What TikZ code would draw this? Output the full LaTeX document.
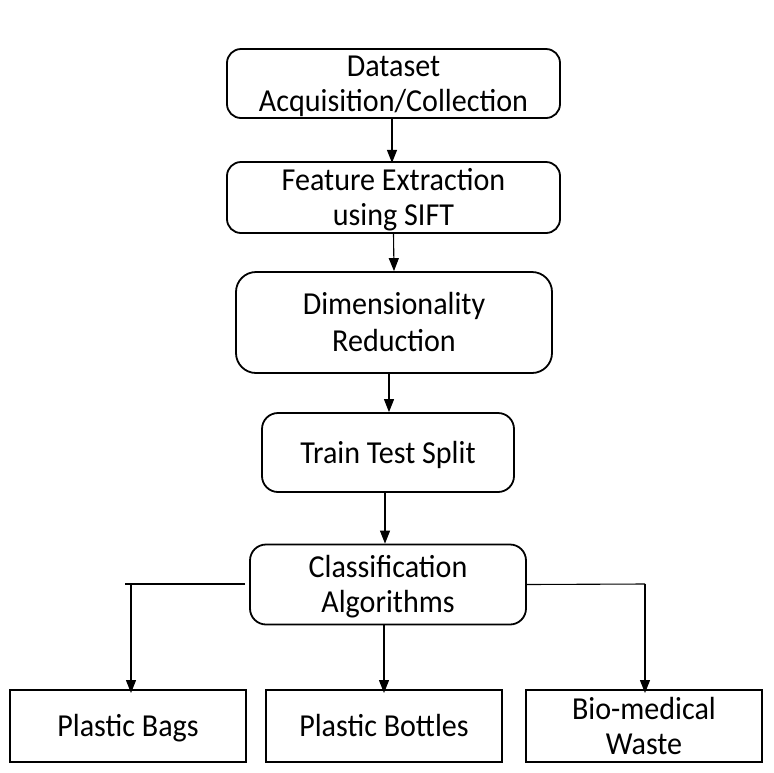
\documentclass[tikz,border=0pt]{standalone}
\usepackage{fontspec}
\setmainfont{Carlito}[FakeStretch=0.94]
\usetikzlibrary{arrows.meta}
\begin{document}
\begin{tikzpicture}[x=1pt,y=-1pt,
  box/.style={draw=black,line width=1.8pt,rounded corners=14pt,align=center,
    font=\fontsize{32}{35}\selectfont,inner sep=0pt,text height=24pt,text depth=2.6pt},
  twoline/.style={text height=59pt},
  leaf/.style={draw=black,line width=2pt,align=center,
    font=\fontsize{32}{35}\selectfont,inner sep=0pt,text height=24pt,text depth=2.6pt,
    minimum width=236pt,minimum height=72pt},
  arr/.style={line width=1.1pt,-{Triangle[length=13pt,width=10pt]}},
  ln/.style={line width=1.1pt}]
\useasboundingbox (0,0) rectangle (774,772);
\node[box,twoline,minimum width=333pt,minimum height=69pt] (b1) at (393.5,83.5) {Dataset\\Acquisition/Collection};
\node[box,twoline,minimum width=333pt,minimum height=71pt] (b2) at (393.5,197.5) {Feature Extraction\\using SIFT};
\node[box,minimum width=316pt,minimum height=101pt,rounded corners=20pt,font=\fontsize{32}{36.5}\selectfont,text height=60.5pt] (b3) at (394,322.5) {Dimensionality\\Reduction};
\node[box,minimum width=252pt,minimum height=79pt,rounded corners=16pt] (b4) at (388,452.5) {Train Test Split};
\node[box,twoline,minimum width=276pt,minimum height=80pt,rounded corners=16pt] (b5) at (388,584.5) {Classification\\Algorithms};
\node[leaf] (c1) at (128,726) {Plastic Bags};
\node[leaf] (c2) at (384,726) {Plastic Bottles};
\node[leaf,twoline] (c3) at (644,726) {Bio-medical\\Waste};
\coordinate (lstart) at (245,584);
\coordinate (lend) at (125,584);
\coordinate (lknee) at (131,584);
\coordinate (rknee) at (645,584);
\draw[arr] (b1.south) ++(-1.5,0) -- ++(0,44);
\draw[arr] (b2.south) -- (b3.north);
\draw[arr] (b3.south -| 389,0) -- (b4.north -| 389,0);
\draw[arr] (b4.south -| 385,0) -- (b5.north -| 385,0);
\draw[ln] (lstart) -- (lend);
\draw[arr] (lknee) -- ([yshift=-4pt]c1.north -| lknee);
\draw[arr] (b5.south -| c2.north) -- ([yshift=-4pt]c2.north);
\draw[ln] (b5.east) -- (rknee);
\draw[arr] (rknee) -- ([yshift=-4pt]c3.north -| rknee);
\end{tikzpicture}
\end{document}
